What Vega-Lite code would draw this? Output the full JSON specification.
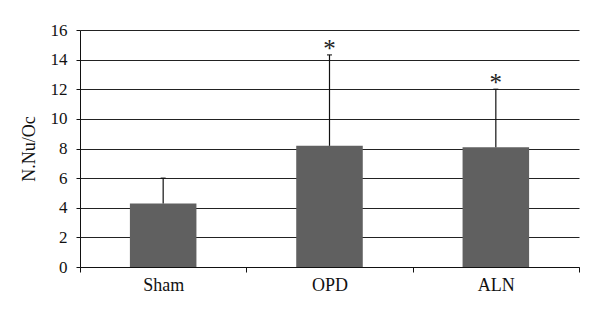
{
  "$schema": "https://vega.github.io/schema/vega-lite/v6.json",
  "width": 499,
  "height": 237,
  "autosize": "none",
  "padding": {"left": 80, "top": 30, "right": 21, "bottom": 51},
  "background": "white",
  "data": {"values": [
    {"group": "Sham", "mean": 4.28, "upper": 6.0, "star": ""},
    {"group": "OPD", "mean": 8.18, "upper": 14.32, "star": "*"},
    {"group": "ALN", "mean": 8.09, "upper": 12.0, "star": "*"}
  ]},
  "config": {
    "view": {"stroke": null},
    "font": "Liberation Serif",
    "axis": {
      "labelFont": "Liberation Serif", "titleFont": "Liberation Serif",
      "labelColor": "#111", "titleColor": "#111", "domainColor": "#111", "tickColor": "#111"
    },
    "axisX": {"labelFontSize": 18, "tickSize": 5, "labelPadding": 4, "grid": false, "labelAngle": 0},
    "axisY": {
      "labelFontSize": 17, "titleFontSize": 18, "titleFontWeight": "normal", "titlePadding": 12,
      "tickSize": 4, "labelPadding": 9, "labelOverlap": false,
      "grid": true, "gridColor": "#222", "gridOpacity": 1, "gridWidth": 1
    }
  },
  "encoding": {
    "x": {
      "field": "group", "type": "nominal", "sort": null,
      "scale": {"paddingInner": 0, "paddingOuter": 0},
      "axis": {"title": null, "tickBand": "extent"}
    }
  },
  "layer": [
    {
      "mark": {"type": "bar", "color": "#606060", "width": {"band": 0.4}},
      "encoding": {
        "y": {
          "field": "mean", "type": "quantitative",
          "scale": {"domain": [0, 16], "nice": false},
          "axis": {"title": "N.Nu/Oc", "values": [0, 2, 4, 6, 8, 10, 12, 14, 16]}
        }
      }
    },
    {
      "mark": {"type": "rule", "color": "#111", "strokeWidth": 1.2},
      "encoding": {
        "y": {"field": "mean", "type": "quantitative", "axis": {"title": "N.Nu/Oc", "values": [0, 2, 4, 6, 8, 10, 12, 14, 16]}},
        "y2": {"field": "upper"}
      }
    },
    {
      "mark": {"type": "tick", "color": "#111", "size": 5, "thickness": 1.5, "orient": "horizontal"},
      "encoding": {
        "y": {"field": "upper", "type": "quantitative", "axis": {"title": "N.Nu/Oc", "values": [0, 2, 4, 6, 8, 10, 12, 14, 16]}}
      }
    },
    {
      "mark": {"type": "text", "font": "Liberation Serif", "fontSize": 25, "color": "#222", "dy": 2, "baseline": "alphabetic"},
      "encoding": {
        "y": {"field": "upper", "type": "quantitative", "axis": {"title": "N.Nu/Oc", "values": [0, 2, 4, 6, 8, 10, 12, 14, 16]}},
        "text": {"field": "star"}
      }
    }
  ]
}
